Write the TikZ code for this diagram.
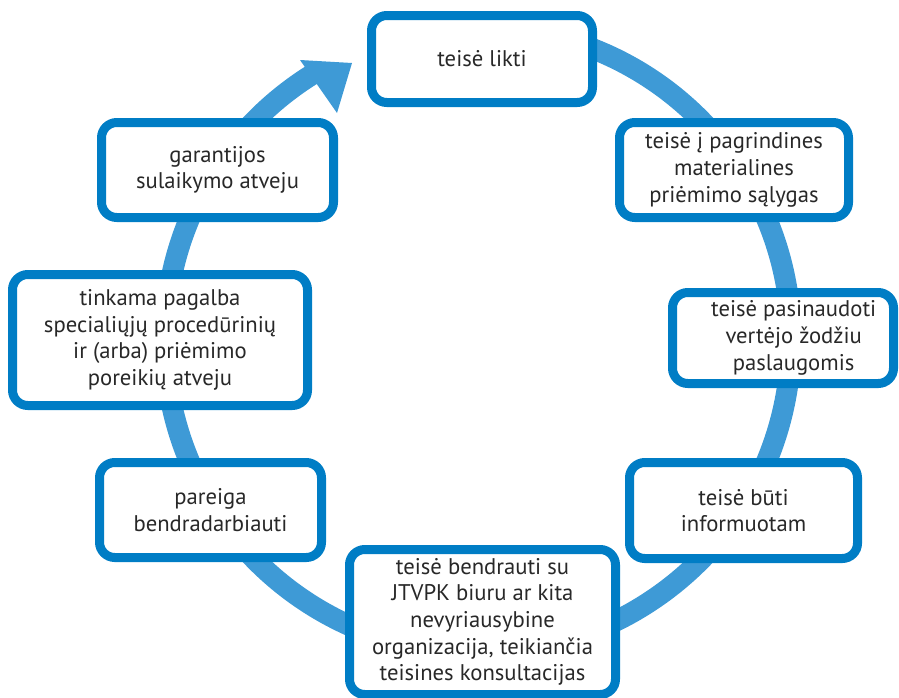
\documentclass[tikz,border=0pt]{standalone}
\usepackage{fontspec}
\setmainfont{PT Sans}
\definecolor{boxblue}{RGB}{0,125,197}
\definecolor{ringblue}{RGB}{62,154,214}
\definecolor{txt}{RGB}{40,40,40}
\begin{document}
\begin{tikzpicture}[x=0.75pt,y=-0.75pt,
  stepbox/.style 2 args={draw=boxblue, fill=white, line width=6.75pt,
    rounded corners=11.5pt, align=center, inner sep=0pt, text=txt,
    font=\fontsize{17}{20}\selectfont,
    minimum width={(#1-9)*0.75pt}, minimum height={(#2-9)*0.75pt}},
  ring/.style={draw=ringblue, line width=15.75pt}]
\useasboundingbox (0,0) rectangle (899,697);
\clip (0,0) rectangle (899,697);
% ring
\coordinate (ringc) at (478,340);
\draw[ring] (ringc) ++(-80:313) arc[start angle=-80, end angle=238, radius=313];
\coordinate (a1) at (300,60);
\coordinate (a2) at (352,63);
\coordinate (a3) at (337,113);
\fill[ringblue] (a1) -- (a2) -- (a3) -- cycle;
% boxes
\node[stepbox={230}{96}] (b1) at (482,59) {teisė likti};
\node[stepbox={238}{104}] (b2) at (734,170) {teisė į pagrindines\\materialines\\priėmimo sąlygas};
\node[stepbox={230}{100}] (b3) at (783,338) {\hspace*{16pt}teisė pasinaudoti\\\hspace*{16pt}vertėjo žodžiu\\\hspace*{16pt}paslaugomis};
\node[stepbox={237}{105}] (b4) at (743.5,510.5) {teisė būti\\informuotam};
\node[stepbox={275}{154}] (b5) at (482.5,622) {teisė bendrauti su\\JTVPK biuru ar kita\\nevyriausybine\\organizacija, teikiančia\\teisines konsultacijas};
\node[stepbox={231}{104}] (b6) at (210.5,510) {pareiga\\bendradarbiauti};
\node[stepbox={304}{140}] (b7) at (160,340) {tinkama pagalba\\specialiųjų procedūrinių\\ir (arba) priėmimo\\poreikių atveju};
\node[stepbox={241}{104}] (b8) at (217.5,170) {garantijos\\sulaikymo atveju};
\end{tikzpicture}
\end{document}
